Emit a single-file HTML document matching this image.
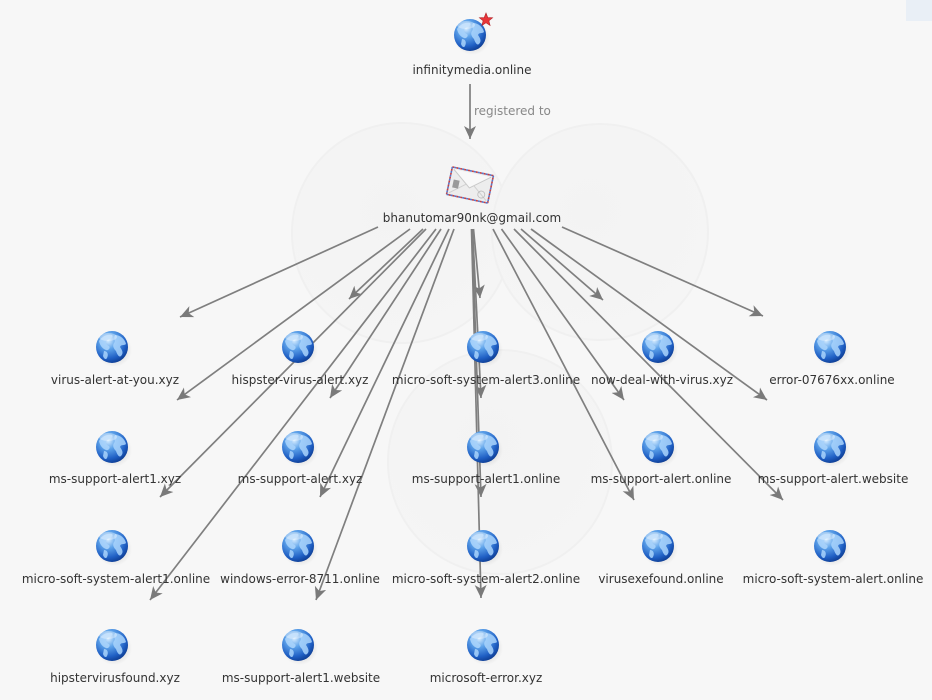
<!DOCTYPE html>
<html><head><meta charset="utf-8"><style>
html,body{margin:0;padding:0;background:#f7f7f7;}
svg{display:block;}
text{font-family:"DejaVu Sans","Liberation Sans",sans-serif;font-size:12px;fill:#333;}
</style></head><body>
<svg width="932" height="700" viewBox="0 0 932 700" xmlns="http://www.w3.org/2000/svg">
<defs>
<radialGradient id="gb" cx="0.38" cy="0.3" r="0.75">
<stop offset="0" stop-color="#d6ecff"/>
<stop offset="0.35" stop-color="#5ea3ea"/>
<stop offset="0.75" stop-color="#1f5fc4"/>
<stop offset="1" stop-color="#0d3a8e"/>
</radialGradient>
<radialGradient id="sh" cx="0.5" cy="0.5" r="0.5">
<stop offset="0" stop-color="#000" stop-opacity="0.22"/>
<stop offset="1" stop-color="#000" stop-opacity="0"/>
</radialGradient>
<radialGradient id="wm" cx="0.45" cy="0.4" r="0.6">
<stop offset="0" stop-color="#f3f3f3"/>
<stop offset="1" stop-color="#f5f5f5"/>
</radialGradient>
<g id="globe">
<ellipse cx="2" cy="3" rx="18" ry="17" fill="url(#sh)"/>
<circle cx="0" cy="0" r="16" fill="url(#gb)"/>
<path d="M-13,-6 C-10,-11 -4,-13 0,-12 C2,-10 -2,-8 -5,-7 C-7,-5 -6,-2 -3,-1 C-1,1 -4,4 -6,3 C-9,2 -12,-1 -13,-6 Z" fill="#a9d3fb" opacity="0.9"/>
<path d="M-8,4 C-5,4 -3,7 -5,11 C-6,13 -8,12 -9,9 Z" fill="#a9d3fb" opacity="0.85"/>
<path d="M3,-12 C8,-12 13,-8 14,-3 C12,-1 9,-3 8,0 C10,3 12,6 9,9 C7,11 5,7 4,4 C2,2 0,-1 2,-4 C4,-6 1,-9 3,-12 Z" fill="#a9d3fb" opacity="0.85"/>
<ellipse cx="-4" cy="-10" rx="9" ry="4" fill="#fff" opacity="0.35"/>
</g>
<marker id="ah" markerUnits="userSpaceOnUse" markerWidth="16" markerHeight="14" refX="13" refY="6" orient="auto" viewBox="0 0 16 12">
<path d="M13,6 L0,0 L3.5,6 L0,12 Z" fill="#7a7a7a"/>
</marker>
</defs>

<!-- watermark -->
<g>
<circle cx="402" cy="233" r="110" fill="url(#wm)" stroke="#f0f0f0" stroke-width="2"/>
<circle cx="600" cy="232" r="108" fill="url(#wm)" stroke="#f0f0f0" stroke-width="2"/>
<circle cx="500" cy="462" r="112" fill="url(#wm)" stroke="#f0f0f0" stroke-width="2"/>
</g>

<!-- top right element -->
<rect x="906" y="0" width="26" height="21" fill="#e9eff6"/>

<!-- edges -->
<g stroke="#7f7f7f" stroke-width="1.7" fill="none" marker-end="url(#ah)">
<line x1="470" y1="84" x2="470" y2="139"/>
<line x1="378" y1="227" x2="180" y2="317"/>
<line x1="423" y1="229" x2="349" y2="299"/>
<line x1="410" y1="229" x2="177" y2="400"/>
<line x1="441" y1="229" x2="330" y2="398"/>
<line x1="426" y1="229" x2="160" y2="497"/>
<line x1="449" y1="229" x2="320" y2="497"/>
<line x1="436" y1="229" x2="150" y2="600"/>
<line x1="454" y1="229" x2="316" y2="600"/>
<line x1="473.5" y1="229" x2="480" y2="298"/>
<line x1="472.5" y1="229" x2="481" y2="398"/>
<line x1="472" y1="229" x2="481" y2="497"/>
<line x1="471.5" y1="229" x2="481" y2="598"/>
<line x1="521" y1="229" x2="603" y2="300"/>
<line x1="501.5" y1="229" x2="624" y2="400"/>
<line x1="493" y1="229" x2="634" y2="500"/>
<line x1="562" y1="227" x2="763" y2="316"/>
<line x1="531" y1="229" x2="767" y2="400"/>
<line x1="514" y1="229" x2="783" y2="500"/>
</g>
<text x="474" y="115" style="fill:#888">registered to</text>

<!-- top node -->
<use href="#globe" x="470" y="35"/>
<path d="M486,13 L487.8,17.6 L492.6,17.8 L488.9,20.8 L490.1,25.5 L486,22.8 L481.9,25.5 L483.1,20.8 L479.4,17.8 L484.2,17.6 Z" fill="#e8353a" stroke="#b01e22" stroke-width="0.6"/>
<text x="472" y="74" text-anchor="middle">infinitymedia.online</text>

<!-- email node -->
<g transform="translate(470,185) rotate(12)">
<rect x="-21" y="-14" width="42" height="28" fill="#ededed" stroke="#c84040" stroke-width="1.6" stroke-dasharray="2 2"/>
<rect x="-21" y="-14" width="42" height="28" fill="none" stroke="#5577cc" stroke-width="1.6" stroke-dasharray="2 2" stroke-dashoffset="2"/>
<path d="M-19,-12 L0,3 L19,-12" fill="#f8f8f8" stroke="#c8c8c8" stroke-width="1"/>
<path d="M-19,12 L-4,0 M19,12 L4,0" fill="none" stroke="#d0d0d0" stroke-width="1"/>
<rect x="-17" y="-2" width="6" height="8" fill="#9a9a9a"/>
<circle cx="13" cy="7" r="3.5" fill="none" stroke="#bbb" stroke-width="0.8"/>
</g>
<text x="472" y="222" text-anchor="middle">bhanutomar90nk@gmail.com</text>

<!-- column 1 -->
<use href="#globe" x="112" y="347"/>
<text x="115" y="384" text-anchor="middle">virus-alert-at-you.xyz</text>
<use href="#globe" x="112" y="447"/>
<text x="115" y="483" text-anchor="middle">ms-support-alert1.xyz</text>
<use href="#globe" x="112" y="546"/>
<text x="116" y="583" text-anchor="middle">micro-soft-system-alert1.online</text>
<use href="#globe" x="112" y="645"/>
<text x="115" y="682" text-anchor="middle">hipstervirusfound.xyz</text>

<!-- column 2 -->
<use href="#globe" x="298" y="347"/>
<text x="300" y="384" text-anchor="middle">hispster-virus-alert.xyz</text>
<use href="#globe" x="298" y="447"/>
<text x="300" y="483" text-anchor="middle">ms-support-alert.xyz</text>
<use href="#globe" x="298" y="546"/>
<text x="300" y="583" text-anchor="middle">windows-error-8711.online</text>
<use href="#globe" x="298" y="645"/>
<text x="301" y="682" text-anchor="middle">ms-support-alert1.website</text>

<!-- column 3 -->
<use href="#globe" x="483" y="347"/>
<text x="486" y="384" text-anchor="middle">micro-soft-system-alert3.online</text>
<use href="#globe" x="483" y="447"/>
<text x="486" y="483" text-anchor="middle">ms-support-alert1.online</text>
<use href="#globe" x="483" y="546"/>
<text x="486" y="583" text-anchor="middle">micro-soft-system-alert2.online</text>
<use href="#globe" x="483" y="645"/>
<text x="486" y="682" text-anchor="middle">microsoft-error.xyz</text>

<!-- column 4 -->
<use href="#globe" x="658" y="347"/>
<text x="662" y="384" text-anchor="middle">now-deal-with-virus.xyz</text>
<use href="#globe" x="658" y="447"/>
<text x="661" y="483" text-anchor="middle">ms-support-alert.online</text>
<use href="#globe" x="658" y="546"/>
<text x="661" y="583" text-anchor="middle">virusexefound.online</text>

<!-- column 5 -->
<use href="#globe" x="830" y="347"/>
<text x="832" y="384" text-anchor="middle">error-07676xx.online</text>
<use href="#globe" x="830" y="447"/>
<text x="833" y="483" text-anchor="middle">ms-support-alert.website</text>
<use href="#globe" x="830" y="546"/>
<text x="833" y="583" text-anchor="middle">micro-soft-system-alert.online</text>
</svg>
</body></html>
